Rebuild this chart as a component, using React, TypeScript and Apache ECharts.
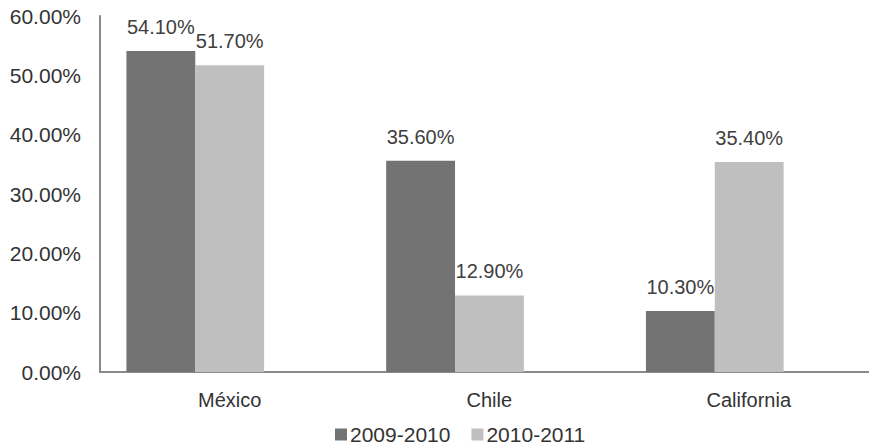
import React, { useEffect, useRef } from "react";
import * as echarts from "echarts";

const categories = ["México", "Chile", "California"];
const seriesNames = ["2009-2010", "2010-2011"];
const values2009 = [54.1, 35.6, 10.3];
const values2010 = [51.7, 12.9, 35.4];
const yTicks = { min: 0, max: 60, interval: 10 };

const FONT = "'Liberation Sans', Arial, sans-serif";
const TEXT = "#333333";
const AXIS = "#8a8a8a";

export default function App() {
  const ref = useRef<HTMLDivElement>(null);
  useEffect(() => {
    if (!ref.current) return;
    const chart = echarts.init(ref.current, undefined, { renderer: "svg" });
    const labelCfg = {
      show: true,
      position: "top",
      distance: 14,
      fontSize: 20,
      fontFamily: FONT,
      color: "#404040",
      formatter: (p: any) => Number(p.value).toFixed(2) + "%",
    };
    chart.setOption({
      animation: false,
      backgroundColor: "#ffffff",
      textStyle: { fontFamily: FONT },
      grid: [
        { left: 65.4, width: 779.25, top: 16, bottom: 73, outerBoundsMode: "none" },
        { left: 100, width: 778.5, top: 16, bottom: 73, outerBoundsMode: "none" },
      ],
      legend: {
        data: seriesNames,
        left: 330,
        top: 419,
        itemWidth: 12,
        itemHeight: 12,
        itemGap: 21,
        icon: "rect",
        textStyle: {
          fontSize: 21,
          lineHeight: 21,
          fontFamily: FONT,
          color: TEXT,
          padding: [0, 0, 0, -2],
        },
      },
      xAxis: [
        {
          type: "category",
          gridIndex: 0,
          data: categories,
          show: false,
        },
        {
          type: "category",
          gridIndex: 1,
          data: categories,
          axisLine: { show: true, lineStyle: { color: AXIS, width: 2 } },
          axisTick: { show: false },
          axisLabel: { fontSize: 20, fontFamily: FONT, color: TEXT, margin: 18 },
        },
      ],
      yAxis: [
        {
          type: "value",
          gridIndex: 0,
          min: yTicks.min,
          max: yTicks.max,
          interval: yTicks.interval,
          show: false,
        },
        {
          type: "value",
          gridIndex: 1,
          min: yTicks.min,
          max: yTicks.max,
          interval: yTicks.interval,
          axisLine: { show: true, lineStyle: { color: AXIS, width: 2 } },
          axisTick: { show: false },
          splitLine: { show: false },
          axisLabel: {
            fontSize: 21,
            fontFamily: FONT,
            color: TEXT,
            margin: 19,
            formatter: (v: number) => v.toFixed(2) + "%",
          },
        },
      ],
      series: [
        {
          name: seriesNames[0],
          type: "bar",
          xAxisIndex: 0,
          yAxisIndex: 0,
          data: values2009,
          barGap: "0%",
          barCategoryGap: "47%",
          itemStyle: { color: "#737373" },
          label: labelCfg,
        },
        {
          name: seriesNames[1],
          type: "bar",
          xAxisIndex: 0,
          yAxisIndex: 0,
          data: values2010,
          barGap: "0%",
          barCategoryGap: "47%",
          itemStyle: { color: "#bfbfbf" },
          label: labelCfg,
        },
      ],
    });
    return () => chart.dispose();
  }, []);
  return (
    <div
      ref={ref}
      style={{ position: "fixed", left: 0, top: 0, width: 869, height: 445 }}
    />
  );
}
